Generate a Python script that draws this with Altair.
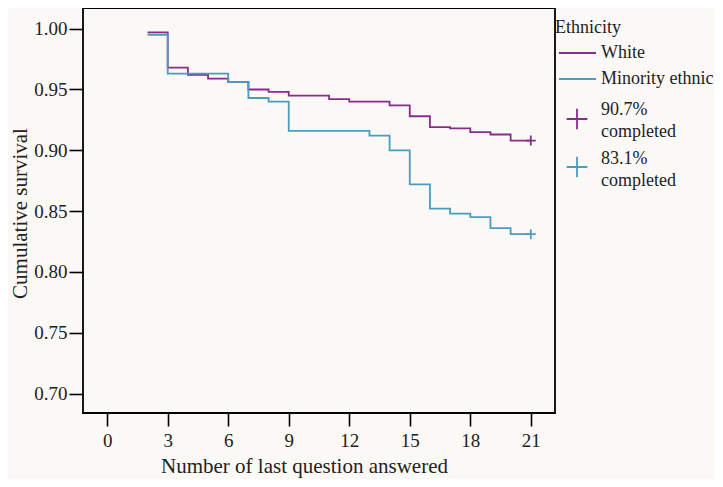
import altair as alt
import pandas as pd

# ---- data ----
white_q = [2, 3, 4, 5, 6, 7, 8, 9, 11, 12, 14, 15, 16, 17, 18, 19, 20, 21]
white_s = [0.997, 0.968, 0.962, 0.959, 0.956, 0.950, 0.948, 0.945, 0.942, 0.940,
           0.937, 0.928, 0.919, 0.918, 0.915, 0.913, 0.908, 0.908]
minority_q = [2, 3, 6, 7, 8, 9, 13, 14, 15, 16, 17, 18, 19, 20, 21]
minority_s = [0.995, 0.963, 0.956, 0.943, 0.940, 0.916, 0.912, 0.900, 0.872,
              0.852, 0.848, 0.845, 0.836, 0.831, 0.831]
groups = ["White", "Minority ethnic"]
censor_labels = ["90.7%\ncompleted", "83.1%\ncompleted"]
legend_title = "Ethnicity"
x_ticks = [0, 3, 6, 9, 12, 15, 18, 21]
y_ticks = [0.70, 0.75, 0.80, 0.85, 0.90, 0.95, 1.00]

colors = ["#8a2b8c", "#4b9cbf"]
FONT = "Liberation Serif"
TXT = "#222222"

rows = [{"q": q, "s": s, "g": groups[0]} for q, s in zip(white_q, white_s)]
rows += [{"q": q, "s": s, "g": groups[1]} for q, s in zip(minority_q, minority_s)]
df = pd.DataFrame(rows)
censor = pd.DataFrame([
    {"q": white_q[-1], "s": white_s[-1], "g": groups[0]},
    {"q": minority_q[-1], "s": minority_s[-1], "g": groups[1]},
])

xs = alt.Scale(domain=[-1.2, 22.2], nice=False, zero=False)
ys = alt.Scale(domain=[0.684, 1.017], nice=False, zero=False)
cs = alt.Scale(domain=groups, range=colors)

xaxis = alt.Axis(values=x_ticks, title="Number of last question answered",
                 grid=False, domain=False, tickSize=13, tickWidth=1.6, tickColor="black",
                 labelPadding=5, labelFontSize=19, labelFont=FONT, labelColor=TXT,
                 titleFont=FONT, titleFontSize=21, titleFontWeight="normal", titleColor=TXT,
                 titleX=221, titleY=53, titleBaseline="middle", titleAlign="center")
yaxis = alt.Axis(values=y_ticks, format=".2f", title="Cumulative survival",
                 grid=False, domain=False, tickSize=14, tickWidth=1.6, tickColor="black",
                 labelPadding=2, labelFontSize=19, labelFont=FONT, labelColor=TXT,
                 titleFont=FONT, titleFontSize=21, titleFontWeight="normal", titleColor=TXT,
                 titleX=-63, titleY=205, titleBaseline="middle", titleAlign="center", titleAngle=-90)

lines = alt.Chart(df).mark_line(interpolate="step-after", strokeWidth=1.8).encode(
    x=alt.X("q:Q", scale=xs, axis=xaxis),
    y=alt.Y("s:Q", scale=ys, axis=yaxis),
    color=alt.Color("g:N", scale=cs, legend=None),
    detail="g:N",
)

cross = "M-1,0L1,0M0,-1L0,1"
ends = alt.Chart(censor).mark_point(shape=cross, size=100, filled=False, strokeWidth=1.8, opacity=1).encode(
    x=alt.X("q:Q", scale=xs),
    y=alt.Y("s:Q", scale=ys),
    color=alt.Color("g:N", scale=cs, legend=None),
)

# ---- manual legend (outside the plot area) ----
one = pd.DataFrame({"k": [0]})
def txt(t, x, y):
    return alt.Chart(one).mark_text(font=FONT, fontSize=18, align="left", baseline="middle",
                                    color=TXT).encode(
        x=alt.value(x), y=alt.value(y), text=alt.value(t))

def seg(color, y):
    return alt.Chart(one).mark_rule(color=color, strokeWidth=1.8).encode(
        x=alt.value(476), x2=alt.value(513), y=alt.value(y))

def plus(color, y):
    return alt.Chart(one).mark_point(shape=cross, size=430, filled=False, strokeWidth=1.8,
                                     color=color, opacity=1).encode(
        x=alt.value(494), y=alt.value(y))

l1 = censor_labels[0].split("\n")
l2 = censor_labels[1].split("\n")
legend = [
    txt(legend_title, 472, 20),
    seg(colors[0], 45), txt(groups[0], 518, 45),
    seg(colors[1], 71), txt(groups[1], 518, 71),
    plus(colors[0], 111), txt(l1[0], 518, 102), txt(l1[1], 518, 124),
    plus(colors[1], 159), txt(l2[0], 518, 151), txt(l2[1], 518, 173),
]

chart = alt.layer(lines, ends, *legend).properties(
    width=472, height=405,
    padding={"left": 75, "top": 0, "right": 160, "bottom": 66},
    autosize=alt.AutoSizeParams(type="none"),
    background="#fbf9f6",
).configure_view(stroke="black", strokeWidth=1.8)

chart.save("out.html", embed_options={"renderer": "svg", "actions": False})
